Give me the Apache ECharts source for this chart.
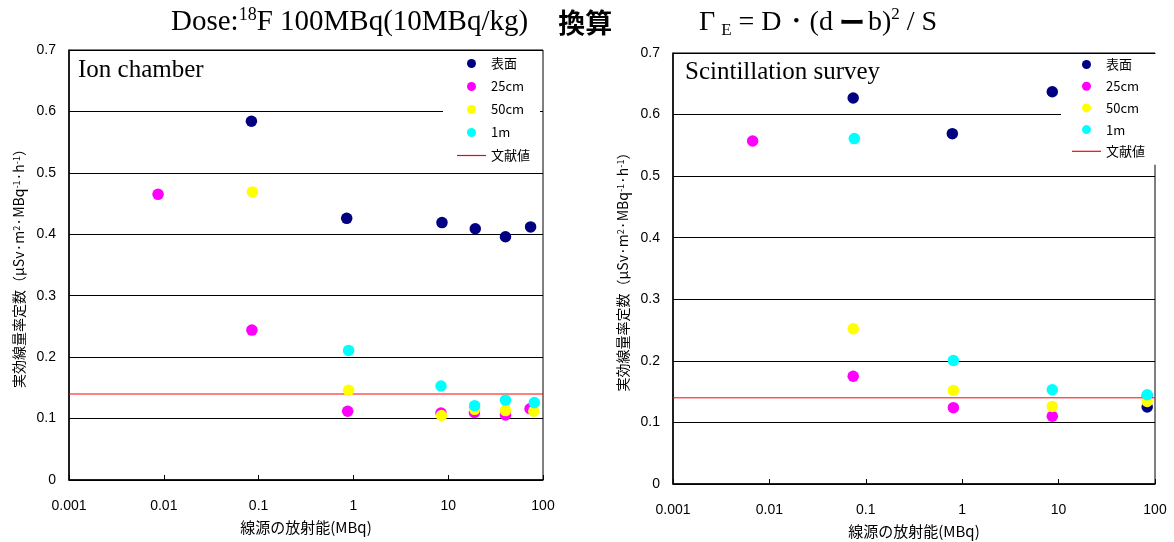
<!DOCTYPE html>
<html><head><meta charset="utf-8">
<script src="https://cdn.jsdelivr.net/npm/echarts@6/dist/echarts.min.js"></script>
<style>html,body{margin:0;padding:0;background:#fff}#c{width:1174px;height:542px}</style>
</head><body><div id="c"></div>
<script>
// ---- data ----
const seriesNames = ['表面', '25cm', '50cm', '1m'];
const refName = '文献値';
const seriesColors = ['#000080', '#ff00ff', '#ffff00', '#00ffff'];
const refColor = '#ff0000';
const refValue = 0.14;
const xTicks = [0.001, 0.01, 0.1, 1, 10, 100];
const yTicks = [0, 0.1, 0.2, 0.3, 0.4, 0.5, 0.6, 0.7];

// Ion chamber
const ionSurfaceX = [0.084, 0.85, 8.6, 19.3, 40.2, 74];
const ionSurfaceY = [0.584, 0.426, 0.419, 0.409, 0.396, 0.412];
const ion25X = [0.0087, 0.085, 0.87, 8.4, 18.9, 40.2, 73];
const ion25Y = [0.465, 0.244, 0.112, 0.109, 0.110, 0.106, 0.116];
const ion50X = [0.086, 0.89, 8.5, 19, 40.2, 80];
const ion50Y = [0.469, 0.146, 0.105, 0.115, 0.113, 0.112];
const ion1mX = [0.89, 8.4, 19, 40.2, 81];
const ion1mY = [0.211, 0.153, 0.121, 0.130, 0.126];

// Scintillation survey
const sciSurfaceX = [0.074, 0.79, 8.6, 83];
const sciSurfaceY = [0.627, 0.569, 0.637, 0.125];
const sci25X = [0.0067, 0.074, 0.81, 8.6, 83];
const sci25Y = [0.557, 0.175, 0.124, 0.110, 0.143];
const sci50X = [0.074, 0.81, 8.6, 83];
const sci50Y = [0.252, 0.152, 0.126, 0.134];
const sci1mX = [0.076, 0.81, 8.6, 83];
const sci1mY = [0.561, 0.2005, 0.153, 0.145];

const panelTitles = ['Ion chamber', 'Scintillation survey'];
const xName = '線源の放射能(MBq)';

// ---- build ----
const zip = (xs, ys) => xs.map((x, i) => [x, ys[i]]);
const panels = [
  [zip(ionSurfaceX, ionSurfaceY), zip(ion25X, ion25Y), zip(ion50X, ion50Y), zip(ion1mX, ion1mY)],
  [zip(sciSurfaceX, sciSurfaceY), zip(sci25X, sci25Y), zip(sci50X, sci50Y), zip(sci1mX, sci1mY)]
];

const SERIF = '"Liberation Serif","Times New Roman",serif';
const SANS = '"Liberation Sans",Arial,sans-serif';
const JP = '"Noto Sans CJK JP","Noto Sans",sans-serif';

const grids = [
  {left: 69, top: 50, width: 474, height: 430},
  {left: 673, top: 53, width: 482, height: 431}
];

const yNameText = '実効線量率定数（μSv·m{sup|2}·MBq{sup|-1}·h{sup|-1}）';

const xAxes = grids.map((g, i) => ({
  type: 'log', logBase: 10, gridIndex: i,
  min: xTicks[0], max: xTicks[xTicks.length - 1],
  axisLine: {show: true, lineStyle: {color: '#000', width: 1.5}},
  axisTick: {show: true, inside: true, length: 5, lineStyle: {color: '#000', width: 1}},
  minorTick: {show: false},
  splitLine: {show: false},
  axisLabel: {color: '#000', fontSize: 14, fontFamily: SANS, margin: 19,
    formatter: v => { const t = xTicks.find(t => Math.abs(Math.log10(t) - Math.log10(v)) < 1e-6); return t === undefined ? '' : String(t); }},
  name: xName, nameLocation: 'middle', nameGap: 40,
  nameTextStyle: {color: '#000', fontSize: 15, fontFamily: JP}
}));

const yAxes = grids.map((g, i) => ({
  type: 'value', gridIndex: i, min: yTicks[0], max: yTicks[yTicks.length - 1], interval: 0.1,
  axisLine: {show: true, lineStyle: {color: '#000', width: 1.5}},
  axisTick: {show: false},
  splitLine: {show: true, lineStyle: {color: '#000', width: 1}},
  axisLabel: {color: '#000', fontSize: 14, fontFamily: SANS, margin: 13,
    formatter: v => String(Math.round(v * 10) / 10)},
  name: yNameText, nameLocation: 'middle', nameRotate: 90, nameGap: 43,
  nameTextStyle: {color: '#000', fontSize: 14, fontFamily: JP,
    rich: {sup: {fontSize: 9, fontFamily: JP, verticalAlign: 'top', lineHeight: 10, color: '#000'}}}
}));

const series = [];
panels.forEach((sets, p) => {
  series.push({
    type: 'line', name: refName, xAxisIndex: p, yAxisIndex: p,
    data: [[xTicks[0], refValue], [xTicks[xTicks.length - 1], refValue]],
    symbol: 'none', showSymbol: false, color: refColor,
    lineStyle: {color: refColor, width: 1}, z: 1, silent: true
  });
  sets.forEach((d, k) => {
    series.push({
      type: 'scatter', name: seriesNames[k], xAxisIndex: p, yAxisIndex: p,
      data: d, symbol: 'circle', symbolSize: 11.5,
      itemStyle: {color: seriesColors[k], opacity: 1}, z: 3
    });
  });
});

const legendData = seriesNames.map(n => ({name: n, icon: 'circle'}))
  .concat([{name: refName, icon: 'path://M0,0H29V1.2H0Z', itemStyle: {color: refColor}}]);
const legendCommon = {
  orient: 'vertical', data: legendData, backgroundColor: '#fff',
  itemWidth: 29, itemHeight: 9, selectedMode: false,
  textStyle: {color: '#000', fontSize: 13, fontFamily: JP}
};

const serifTok = {fontSize: 29, fontFamily: SERIF, fontWeight: 'normal', color: '#000', lineHeight: 33};
const supTok = {fontSize: 18, fontFamily: SERIF, fontWeight: 'normal', color: '#000', verticalAlign: 'top', lineHeight: 20};
const serifTok2 = Object.assign({}, serifTok, {fontSize: 28});
const supTok2 = Object.assign({}, supTok, {fontSize: 17});

const option = {
  animation: false,
  backgroundColor: '#fff',
  title: [
    {text: '{a|Dose:}{sup|18}{a|F 100MBq(10MBq/kg)}{b|換算}', left: 171, top: 6, padding: 0,
     textStyle: {fontWeight: 'normal', rich: {
       a: serifTok, sup: supTok,
       b: {fontSize: 27, fontFamily: JP, fontWeight: 'bold', color: '#000', lineHeight: 33, padding: [0, 0, 0, 30]}
     }}},
    {text: '{a|Γ}{sub|E}{a| = D・(d}{c|ー}{a|b)}{sup|2}{a| / S}', left: 699, top: 6, padding: 0,
     textStyle: {fontWeight: 'normal', rich: {
       a: serifTok2, sup: supTok2,
       c: {fontSize: 26, fontFamily: JP, fontWeight: 'bold', color: '#000', lineHeight: 33, padding: [0, 3, 0, 6]},
       sub: {fontSize: 17, fontFamily: SERIF, fontWeight: 'normal', color: '#000', verticalAlign: 'bottom', lineHeight: 14, padding: [0, 0, 0, 6]}
     }}},
    {text: panelTitles[0], left: 78, top: 58, padding: 0,
     textStyle: {fontSize: 25, fontFamily: SERIF, fontWeight: 'normal', color: '#000'}},
    {text: panelTitles[1], left: 685, top: 60, padding: 0,
     textStyle: {fontSize: 25, fontFamily: SERIF, fontWeight: 'normal', color: '#000'}}
  ],
  legend: [
    Object.assign({}, legendCommon, {left: 443, top: 51, padding: [6, 10, 7, 14], itemGap: 10}),
    Object.assign({}, legendCommon, {left: 1061, top: 54, padding: [4, 14, 7, 11], itemGap: 8.7})
  ],
  grid: grids.map(g => Object.assign({show: true, borderColor: '#000', borderWidth: 1, backgroundColor: 'transparent', containLabel: false, outerBoundsMode: 'none'}, g)),
  xAxis: xAxes,
  yAxis: yAxes,
  series: series
};

const chart = echarts.init(document.getElementById('c'), null, {renderer: 'canvas'});
chart.setOption(option);
</script>
</body></html>
